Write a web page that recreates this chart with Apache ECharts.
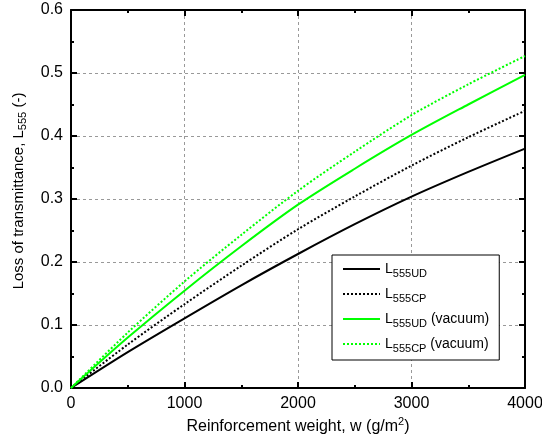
<!DOCTYPE html>
<html><head><meta charset="utf-8">
<script src="https://cdn.jsdelivr.net/npm/echarts@6/dist/echarts.min.js"></script>
<style>html,body{margin:0;padding:0;background:#fff}#c{width:542px;height:444px}</style>
</head><body><div id="c"></div>
<script>
const weights = [0, 500, 1000, 1500, 2000, 2500, 3000, 3500, 4000];
const L555UD = [0, 0.057, 0.1106, 0.163, 0.2127, 0.26, 0.3037, 0.343, 0.38];
const L555CP = [0, 0.069, 0.133, 0.194, 0.252, 0.304, 0.353, 0.398, 0.44];
const L555UDvac = [0, 0.080, 0.1545, 0.225, 0.291, 0.348, 0.4016, 0.45, 0.497];
const L555CPvac = [0, 0.088, 0.169, 0.243, 0.313, 0.375, 0.433, 0.482, 0.527];
const seriesNames = ['L555UD', 'L555CP', 'L555UD (vacuum)', 'L555CP (vacuum)'];
const xTicks = [0, 1000, 2000, 3000, 4000];
const yTicks = [0.0, 0.1, 0.2, 0.3, 0.4, 0.5, 0.6];

const FONT = 'Liberation Sans';
const pair = a => weights.map((w, i) => [w, a[i]]);
const grid = {left: 71, top: 10, right: 17, bottom: 56, containLabel: false, outerBoundsMode: 'none'};
const axisCommon = {
  type: 'value',
  axisLine: {show: true, onZero: false, lineStyle: {color: '#000', width: 2}},
  axisTick: {show: true, inside: true, length: 6, lineStyle: {color: '#000', width: 2}},
  minorTick: {show: true, splitNumber: 2, length: 3, lineStyle: {color: '#000', width: 2}},
};
const chart = echarts.init(document.getElementById('c'), null, {renderer: 'canvas'});
const mk = (name, data, color, dash, width) => ({
  name, type: 'line', data: pair(data), symbol: 'none', smooth: 0.3,
  lineStyle: {color, width, type: dash}, itemStyle: {color}
});
chart.setOption({
  animation: false,
  backgroundColor: '#fff',
  grid,
  textStyle: {fontFamily: FONT},
  legend: {
    left: 332, top: 255, orient: 'vertical',
    backgroundColor: '#fff', borderColor: '#000', borderWidth: 1,
    padding: [7, 10, 6, 10], itemGap: 8, itemWidth: 37, itemHeight: 14,
    itemStyle: {opacity: 0},
    data: seriesNames,
    formatter: n => {
      const m = n.match(/^L(\S+)(.*)$/);
      return 'L{sub|' + m[1] + '}' + m[2];
    },
    textStyle: {fontFamily: FONT, fontSize: 14, color: '#000',
      rich: {sub: {fontFamily: FONT, fontSize: 11, color: '#000', verticalAlign: 'bottom', padding: [9, 0, 0, 0]}}}
  },
  xAxis: [
    Object.assign({}, axisCommon, {
      min: 0, max: 4000, interval: 1000, position: 'bottom',
      name: 'Reinforcement weight, w (g/m{sup|2})', nameLocation: 'middle', nameGap: 24,
      nameTextStyle: {fontFamily: FONT, fontSize: 16, color: '#000',
        rich: {sup: {fontFamily: FONT, fontSize: 11, color: '#000', verticalAlign: 'top', padding: [0, 0, 8, 0]}}},
      axisLabel: {fontFamily: FONT, fontSize: 16, color: '#000', margin: 8,
        formatter: v => xTicks.includes(v) ? String(v) : ''},
      splitLine: {show: true, lineStyle: {color: '#999', type: [3, 3], width: 1}}
    }),
    Object.assign({}, axisCommon, {
      min: 0, max: 4000, interval: 1000, position: 'top',
      axisLabel: {show: false}, splitLine: {show: false}
    })
  ],
  yAxis: [
    Object.assign({}, axisCommon, {
      min: 0, max: 0.6, interval: 0.1, position: 'left',
      name: 'Loss of transmittance, L{sub|555} (-)', nameLocation: 'middle', nameGap: 43,
      nameTextStyle: {fontFamily: FONT, fontSize: 15, color: '#000', padding: [0, 0, 0, 16],
        rich: {sub: {fontFamily: FONT, fontSize: 11, color: '#000', verticalAlign: 'bottom', padding: [8, 0, 0, 0]}}},
      axisLabel: {fontFamily: FONT, fontSize: 16, color: '#000', margin: 8,
        formatter: v => v.toFixed(1)},
      splitLine: {show: true, lineStyle: {color: '#999', type: [3, 3], width: 1}}
    }),
    Object.assign({}, axisCommon, {
      min: 0, max: 0.6, interval: 0.1, position: 'right',
      axisLabel: {show: false}, splitLine: {show: false}
    })
  ],
  series: [
    mk(seriesNames[0], L555UD, '#000', 'solid', 2),
    mk(seriesNames[1], L555CP, '#000', [2, 2], 2),
    mk(seriesNames[2], L555UDvac, '#00ff00', 'solid', 2),
    mk(seriesNames[3], L555CPvac, '#00ff00', [2, 2], 2)
  ]
});
</script></body></html>
